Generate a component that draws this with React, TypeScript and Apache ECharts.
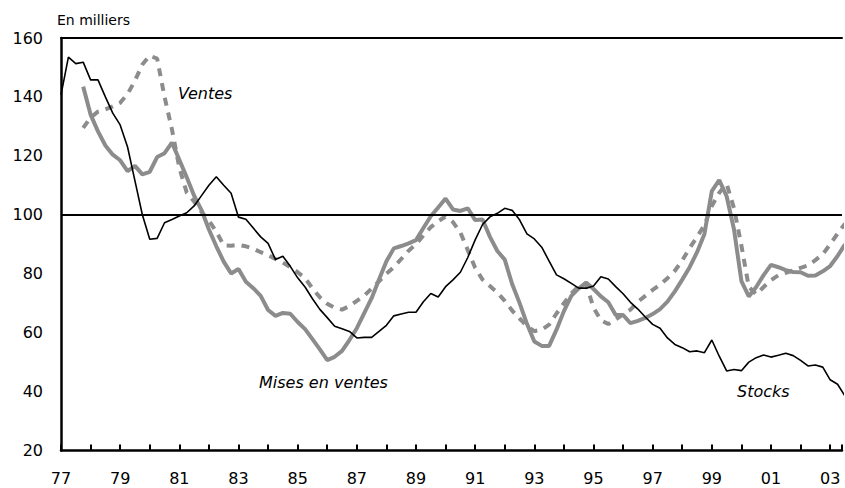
import React, { useEffect, useRef } from "react";
import * as echarts from "echarts";

// Quarterly series (index 0 = first quarter of start year)
const STOCKS_START = 1977;
const FLOWS_START = 1977.75;

const stocks = [
  140.7, 153.5, 151.3, 151.8, 145.8, 145.8, 140, 134.5, 130.5, 123, 111.5, 100,
  91.7, 92, 97.3, 98.4, 99.6, 100.7, 103, 106.5, 110, 112.9, 110, 107.3, 99.2,
  98.5, 95.5, 92.5, 90.3, 84.8, 85.9, 82.5, 78.6, 75.5, 71.5, 67.9, 65.1, 62.2,
  61.3, 60.4, 58.2, 58.4, 58.4, 60.4, 62.5, 65.7, 66.3, 66.9, 66.9, 70.5, 73.3,
  72.1, 75.6, 77.9, 80.5, 85.5, 91.5, 96.7, 99.3, 100.5, 102.2, 101.5, 98.3,
  93.5, 91.8, 89, 84.3, 79.6, 78.3, 76.7, 75.1, 75.1, 75.8, 79, 78.2, 75.6,
  73.2, 70.3, 68, 65.3, 62.8, 61.5, 58.2, 56, 54.9, 53.5, 53.8, 53.2, 57.5, 52,
  47, 47.5, 47.1, 50, 51.5, 52.4, 51.7, 52.3, 53, 52.2, 50.6, 48.7, 49, 48.3,
  44, 42.5, 38.5,
];

const misesEnVentes = [
  143.5, 134, 128.3, 123.5, 120.4, 118.5, 114.8, 116.6, 113.7, 114.6, 119.6,
  120.9, 124.5, 118.7, 112.7, 106.5, 101.6, 95, 89.3, 84.1, 80.1, 81.6, 77.3,
  75.1, 72.5, 67.7, 65.7, 66.7, 66.4, 63.6, 61.2, 57.8, 54.3, 50.7, 51.8, 53.8,
  57.5, 61.5, 66.6, 71.7, 78, 84.2, 88.6, 89.4, 90.3, 91.4, 95.5, 99.5, 102.5,
  105.5, 101.8, 101.3, 102.2, 98.2, 98.4, 92.5, 87.7, 84.8, 76.5, 70.1, 63, 57,
  55.5, 55.5, 61, 67.3, 72.5, 75, 77, 74.8, 72.3, 70.3, 66, 66, 63.2, 64, 65,
  66.3, 68, 70.5, 74, 78, 82.2, 87.3, 93.5, 108, 111.8, 106.3, 95, 77.5, 72.3,
  75.5, 79.5, 83, 82.2, 81.2, 80.6, 80.5, 79.3, 79.4, 80.8, 82.6, 86, 90,
];

const ventes = [
  129.5, 133, 135, 135.8, 136.8, 138, 141, 145.5, 151, 154, 153, 140, 129, 116,
  107.5, 104.5, 101, 98, 94.3, 89.6, 89.5, 89.8, 89.3, 88.5, 87.3, 86.3, 85,
  83.8, 82.2, 80.5, 78.5, 75, 72, 69.8, 68.4, 67.8, 69, 70.8, 72.5, 75, 77.4,
  80, 82.2, 85, 87.8, 90, 93, 95.8, 97.8, 99.4, 97.5, 94, 88, 82, 78, 75.8,
  73.6, 70.8, 67.5, 64.8, 62.2, 60.5, 61, 62.7, 66.5, 70, 73.3, 75.8, 76.5,
  68.5, 64.2, 62.9, 64.5, 66.2, 67.8, 70.5, 72.5, 74.5, 76.3, 78.5, 81, 84.5,
  88.7, 92.5, 96.5, 103, 107.5, 110.5, 102.2, 89.5, 75.5, 73, 75.5, 77.8, 79.5,
  80.3, 81.1, 82, 82.8, 84.6, 86.6, 90, 93.6, 97,
];

const X_MIN = 1977;
const X_MAX = 2003.4;
const Y_MIN = 20;
const Y_MAX = 160;
const Y_STEP = 20;
const REF_LEVEL = 100;

const UNIT_LABEL = "En milliers";
const SERIES_LABELS = { ventes: "Ventes", mises: "Mises en ventes", stocks: "Stocks" };

const toPoints = (start: number, arr: number[]) =>
  arr.map((v, i) => [start + i * 0.25, v]);

export default function App() {
  const ref = useRef<HTMLDivElement>(null);
  useEffect(() => {
    if (!ref.current) return;
    const chart = echarts.init(ref.current, null, { renderer: "svg" });
    const font = "DejaVu Sans";
    const gray = "#8c8c8c";
    chart.setOption({
      animation: false,
      grid: { left: 61, right: 0, top: 38, bottom: 37.5 },
      xAxis: [
        {
          type: "value",
          min: X_MIN,
          max: X_MAX,
          interval: 1,
          axisLine: { lineStyle: { color: "#000", width: 2.5 } },
          axisTick: { inside: true, length: 6, lineStyle: { color: "#000", width: 2 } },
          axisLabel: {
            formatter: (v: number) =>
              Number.isInteger(v) && v % 2 === 1 ? String(v % 100).padStart(2, "0") : "",
            color: "#000",
            fontSize: 16,
            fontFamily: font,
            margin: 20,
          },
          splitLine: { show: false },
        },
        {
          type: "value",
          position: "top",
          min: X_MIN,
          max: X_MAX,
          axisLine: { show: true, onZero: false, lineStyle: { color: "#000", width: 2 } },
          axisTick: { show: false },
          axisLabel: { show: false },
          splitLine: { show: false },
        },
      ],
      yAxis: {
        type: "value",
        min: Y_MIN,
        max: Y_MAX,
        interval: Y_STEP,
        axisLine: { show: true, lineStyle: { color: "#000", width: 2.5 } },
        axisTick: { show: false },
        axisLabel: { color: "#000", fontSize: 16, fontFamily: font, margin: 18 },
        splitLine: { show: false },
      },
      series: [
        {
          name: SERIES_LABELS.mises,
          type: "line",
          data: toPoints(FLOWS_START, misesEnVentes),
          showSymbol: false,
          lineStyle: { color: gray, width: 4 },
          z: 2,
        },
        {
          name: SERIES_LABELS.ventes,
          type: "line",
          data: toPoints(FLOWS_START, ventes),
          showSymbol: false,
          lineStyle: { color: gray, width: 4, type: [8, 7] },
          z: 3,
        },
        {
          name: SERIES_LABELS.stocks,
          type: "line",
          data: toPoints(STOCKS_START, stocks),
          showSymbol: false,
          lineStyle: { color: "#000", width: 1.6 },
          z: 4,
          markLine: {
            silent: true,
            symbol: "none",
            label: { show: false },
            lineStyle: { color: "#000", width: 2, type: "solid" },
            data: [{ yAxis: REF_LEVEL }],
          },
        },
      ],
      graphic: [
        {
          type: "text",
          left: 57,
          top: 13,
          style: { text: UNIT_LABEL, font: `14px "${font}"`, fill: "#000" },
        },
        {
          type: "text",
          left: 178,
          top: 85,
          style: { text: SERIES_LABELS.ventes, font: `italic 16px "${font}"`, fill: "#000" },
        },
        {
          type: "text",
          left: 259,
          top: 374,
          style: { text: SERIES_LABELS.mises, font: `italic 16px "${font}"`, fill: "#000" },
        },
        {
          type: "text",
          left: 737,
          top: 383,
          style: { text: SERIES_LABELS.stocks, font: `italic 16px "${font}"`, fill: "#000" },
        },
      ],
    });
    return () => chart.dispose();
  }, []);
  return (
    <div
      ref={ref}
      style={{ position: "absolute", left: 0, top: 0, width: 845, height: 488 }}
    />
  );
}
